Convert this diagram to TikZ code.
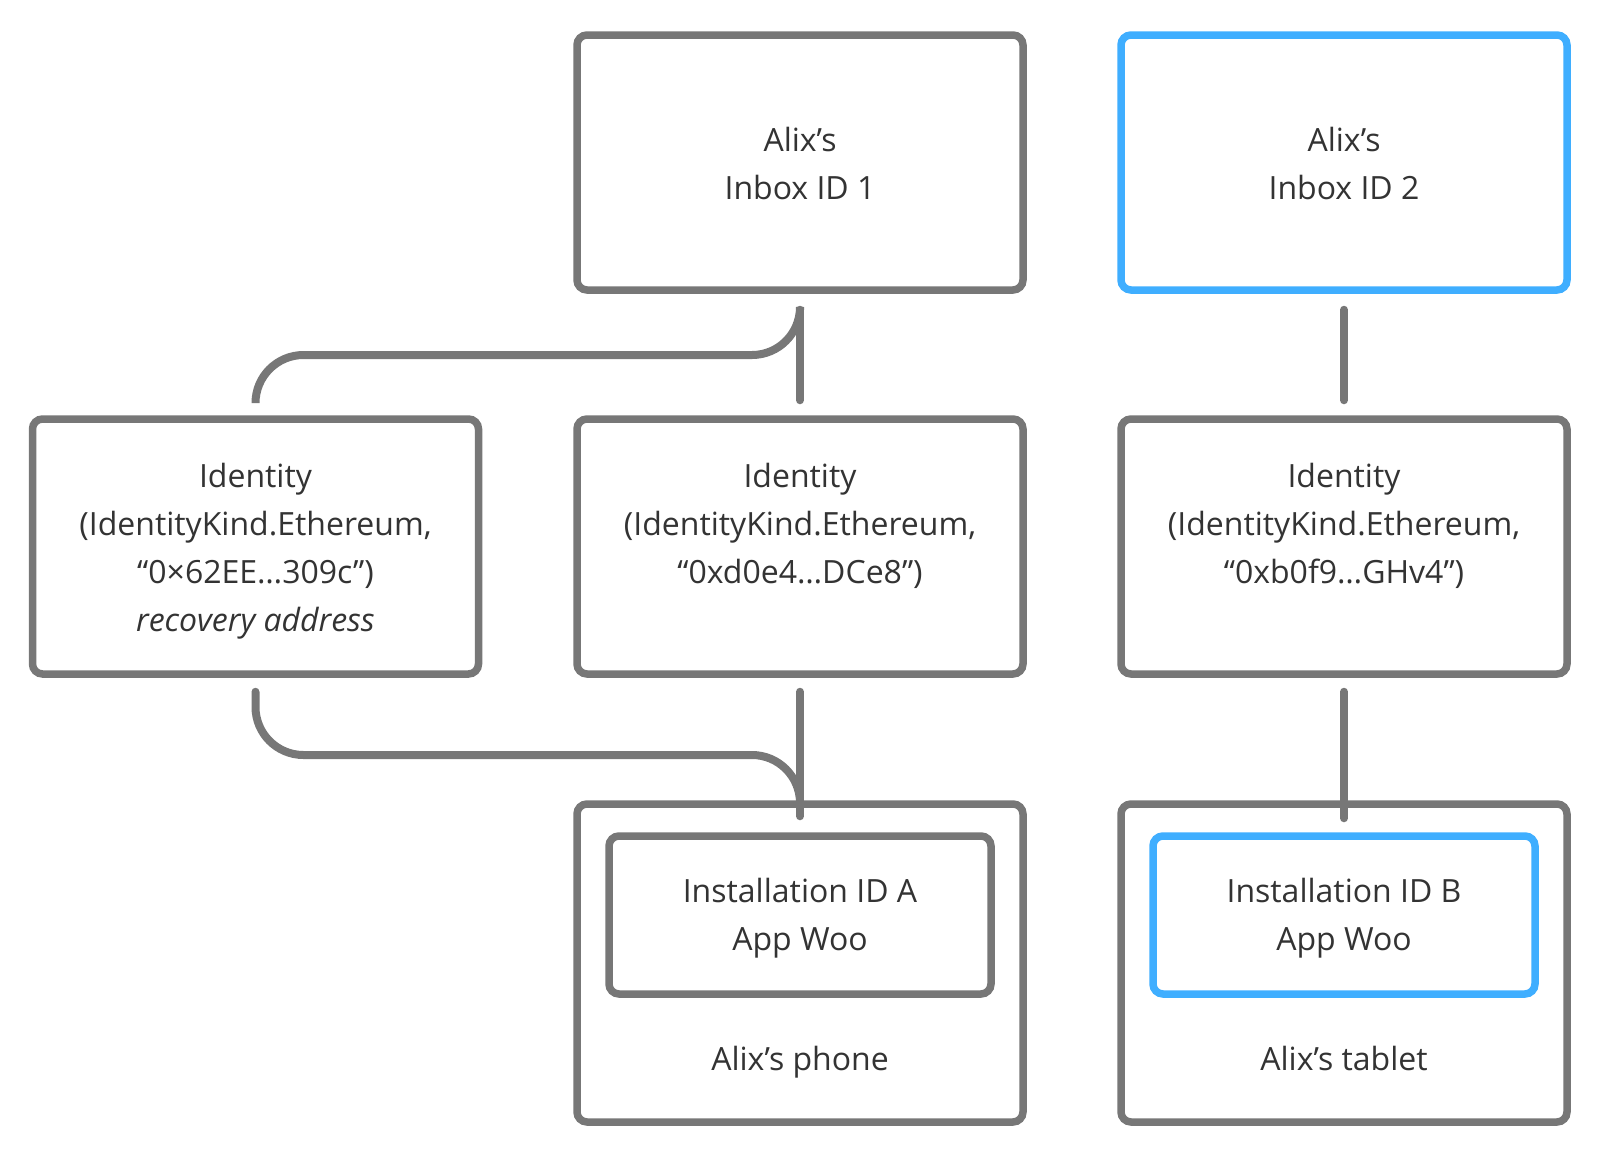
\documentclass[tikz,border=0pt]{standalone}
\usepackage{fontspec}
\setmainfont{Open Sans}
\usetikzlibrary{calc}
\definecolor{edgegray}{HTML}{777777}
\definecolor{accentblue}{HTML}{3FAEFF}
\definecolor{txt}{HTML}{333333}
\tikzset{
  box/.style={draw=edgegray, line width=7.5pt, rounded corners=10pt, rectangle, inner sep=0pt, fill=white},
  bigbox/.style={box, minimum width=446pt, minimum height=255pt},
  devbox/.style={box, minimum width=446pt, minimum height=318pt},
  instbox/.style={box, minimum width=382pt, minimum height=158pt},
  bluebox/.style={draw=accentblue},
  label/.style={text=txt, align=center, anchor=base, inner sep=0pt, font=\fontsize{32pt}{48pt}\selectfont},
  conn/.style={draw=edgegray, line width=8pt, line cap=round, rounded corners=48pt}
}
\begin{document}
\begin{tikzpicture}[x=1pt, y=-1pt]
\useasboundingbox (0,0) rectangle (1599,1163);
% boxes
\node[bigbox] (inbox1) at (800,162.5) {};
\node[bigbox, bluebox] (inbox2) at (1344,162.5) {};
\node[bigbox] (id1) at (255.5,546.5) {};
\node[bigbox] (id2) at (800,546.5) {};
\node[bigbox] (id3) at (1344,546.5) {};
\node[devbox] (phone) at (800,963) {};
\node[devbox] (tablet) at (1344,963) {};
\node[instbox] (instA) at (800,915) {};
\node[instbox, bluebox] (instB) at (1344,915) {};
% texts (anchored at the baseline of the last line)
\node[label] (t-inbox1) at (800,199) {Alix’s\\Inbox ID 1};
\node[label] (t-inbox2) at (1344,199) {Alix’s\\Inbox ID 2};
\node[label] (t-id1) at (255.5,631) {Identity\\(IdentityKind.Ethereum,\\“0×62EE…309c”)\\\textit{recovery address}};
\node[label] (t-id2) at (800,583) {Identity\\(IdentityKind.Ethereum,\\“0xd0e4…DCe8”)};
\node[label] (t-id3) at (1344,583) {Identity\\(IdentityKind.Ethereum,\\“0xb0f9…GHv4”)};
\node[label] (t-instA) at (800,950) {Installation ID A\\App Woo};
\node[label] (t-instB) at (1344,950) {Installation ID B\\App Woo};
\node[label] (t-phone) at (800,1070) {Alix’s phone};
\node[label] (t-tablet) at (1344,1070) {Alix’s tablet};
% connector endpoints
\coordinate (i1b) at ([yshift=-16pt]inbox1.south);
\coordinate (i2b) at ([yshift=-16pt]inbox2.south);
\coordinate (d1t) at ([yshift=15pt]id1.north);
\coordinate (d2t) at ([yshift=15pt]id2.north);
\coordinate (d3t) at ([yshift=15pt]id3.north);
\coordinate (d1b) at ([yshift=-14pt]id1.south);
\coordinate (d2b) at ([yshift=-14pt]id2.south);
\coordinate (d3b) at ([yshift=-14pt]id3.south);
\coordinate (pA) at ([yshift=-1pt]phone.north);
\coordinate (iA) at ([yshift=16pt]instA.north);
\coordinate (iB) at ([yshift=14pt]instB.north);
% connectors
\draw[conn] (i1b) -- (d2t);
\draw[conn] (i1b) -- (i1b |- 0,355) -- (d1t |- 0,355) -- (d1t);
\draw[conn] (i2b) -- (d3t);
\draw[conn] (d2b) -- (iA);
\draw[conn] (d1b) -- (d1b |- 0,755) -- (pA |- 0,755) -- (pA);
\draw[conn] (d3b) -- (iB);
\end{tikzpicture}
\end{document}
